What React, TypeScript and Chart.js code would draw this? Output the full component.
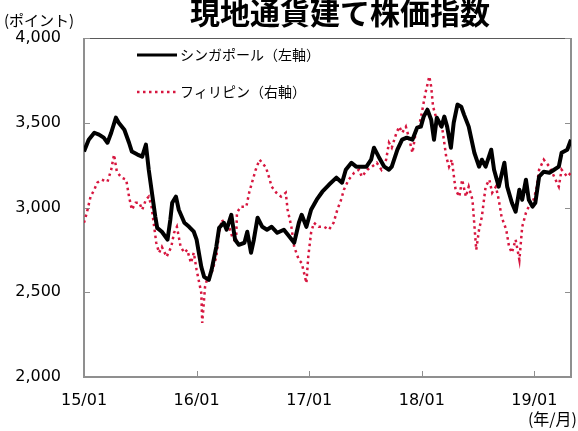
import React, { useEffect, useRef } from "react";
import { Chart, registerables } from "chart.js";

Chart.register(...registerables);

const titleText = "現地通貨建て株価指数";
const yUnitLabel = "(ポイント)";
const xUnitLabel = "(年/月)";
const seriesLabels = ["シンガポール（左軸）", "フィリピン（右軸）"];
const xTickLabels = ["15/01", "16/01", "17/01", "18/01", "19/01"];
const xTickMonths = [0, 12, 24, 36, 48];
const yMin = 2000;
const yMax = 4000;
const yStep = 500;
const xMaxMonth = 51.9;

// months elapsed since Jan 2015
const sgMonths = [
  0.0, 0.5, 1.1, 1.6, 2.1, 2.5, 2.9, 3.4, 3.7, 4.3, 4.8, 5.1, 5.7, 6.2, 6.6, 6.9, 7.3, 7.6, 7.8, 8.3,
  8.9, 9.2, 9.4, 9.8, 10.1, 10.7, 11.2, 11.7, 12.0, 12.5, 12.8, 13.3, 13.6, 14.1, 14.4, 14.9, 15.2, 15.7, 16.1, 16.5,
  17.1, 17.4, 17.8, 18.1, 18.5, 19.0, 19.5, 20.0, 20.6, 21.3, 21.9, 22.4, 22.9, 23.2, 23.7, 24.2, 24.8, 25.4, 26.1, 26.9,
  27.5, 27.9, 28.5, 29.0, 29.5, 30.1, 30.6, 30.9, 31.4, 32.0, 32.5, 32.8, 33.4, 33.9, 34.4, 35.0, 35.5, 35.9, 36.2, 36.6,
  37.0, 37.3, 37.6, 38.1, 38.4, 38.7, 39.1, 39.4, 39.8, 40.2, 40.5, 41.0, 41.6, 42.1, 42.4, 42.8, 43.4, 43.7, 44.2, 44.8,
  45.1, 45.6, 46.0, 46.4, 46.7, 47.1, 47.4, 47.8, 48.1, 48.5, 49.0, 49.6, 50.1, 50.6, 50.9, 51.5, 51.9,
];
const sgValues = [
  3331, 3400, 3441, 3430, 3412, 3382, 3441, 3530, 3500, 3459, 3382, 3330, 3312, 3300, 3371, 3223, 3064, 2945, 2880, 2857,
  2810, 2928, 3028, 3064, 2987, 2910, 2886, 2857, 2810, 2650, 2591, 2573, 2632, 2768, 2880, 2910, 2869, 2957, 2810, 2780,
  2792, 2857, 2733, 2810, 2940, 2886, 2869, 2886, 2851, 2869, 2827, 2792, 2910, 2957, 2886, 2987, 3046, 3093, 3134, 3176,
  3146, 3223, 3264, 3241, 3241, 3241, 3282, 3353, 3300, 3241, 3223, 3241, 3341, 3400, 3412, 3400, 3471, 3477, 3536, 3577,
  3518, 3400, 3530, 3477, 3536, 3477, 3353, 3500, 3607, 3595, 3548, 3477, 3323, 3241, 3282, 3241, 3341, 3223, 3123, 3264,
  3123, 3028, 2975, 3105, 3046, 3164, 3046, 3005, 3028, 3182, 3211, 3205, 3223, 3241, 3323, 3341, 3400,
];

const phMonths = [
  0.0, 0.3, 0.7, 1.1, 1.4, 1.9, 2.5, 2.9, 3.2, 3.5, 4.0, 4.5, 4.8, 5.1, 5.5, 5.9, 6.2, 6.6, 6.9, 7.2,
  7.7, 8.0, 8.3, 8.8, 9.3, 9.6, 9.9, 10.3, 10.7, 11.0, 11.4, 11.7, 12.0, 12.5, 12.6, 12.9, 13.1, 13.6, 14.1, 14.4,
  14.7, 15.1, 15.5, 15.8, 16.2, 16.3, 16.7, 17.3, 17.6, 17.9, 18.3, 18.7, 19.0, 19.4, 19.7, 20.0, 20.5, 21.0, 21.5, 21.7,
  22.1, 22.4, 22.9, 23.2, 23.7, 23.9, 24.2, 24.5, 25.0, 25.6, 26.1, 26.6, 27.0, 27.4, 27.7, 28.2, 28.8, 29.3, 29.6, 30.2,
  30.7, 31.2, 31.7, 32.2, 32.5, 32.8, 33.3, 33.6, 33.9, 34.3, 34.6, 35.0, 35.4, 35.7, 36.0, 36.4, 36.8, 37.0, 37.2, 37.5,
  37.8, 38.2, 38.6, 38.9, 39.2, 39.6, 40.0, 40.3, 40.7, 41.0, 41.4, 41.8, 42.1, 42.4, 42.8, 43.2, 43.5, 43.9, 44.2, 44.5,
  45.0, 45.3, 45.6, 46.0, 46.4, 46.7, 47.1, 47.4, 47.7, 48.2, 48.5, 49.0, 49.6, 50.1, 50.6, 50.9, 51.5, 51.9,
];
const phValues = [
  2910, 2969, 3064, 3105, 3146, 3164, 3152, 3223, 3312, 3211, 3176, 3164, 3064, 2987, 3028, 3028, 2987, 3046, 3064, 3005,
  2792, 2733, 2768, 2709, 2768, 2851, 2886, 2768, 2733, 2750, 2673, 2733, 2632, 2496, 2319, 2532, 2573, 2614, 2709, 2851,
  2928, 2886, 2880, 2827, 2792, 2969, 3005, 3005, 3087, 3146, 3223, 3282, 3264, 3235, 3182, 3123, 3087, 3064, 3087, 2987,
  2886, 2768, 2691, 2673, 2555, 2709, 2851, 2910, 2886, 2886, 2869, 2910, 2987, 3046, 3105, 3164, 3205, 3223, 3182, 3223,
  3241, 3264, 3223, 3282, 3382, 3353, 3441, 3477, 3441, 3477, 3418, 3323, 3459, 3477, 3559, 3678, 3773, 3713, 3595, 3536,
  3500, 3459, 3300, 3241, 3282, 3105, 3064, 3164, 3064, 3123, 3046, 2750, 2869, 2945, 3123, 3164, 3087, 3123, 3046, 2945,
  2869, 2768, 2733, 2810, 2691, 2886, 2969, 3005, 3005, 3105, 3223, 3282, 3241, 3182, 3123, 3223, 3182, 3205,
];

const SG_COLOR = "#000000";
const PH_COLOR = "#d7163f";
const FRAME_COLOR = "#8f8f8f";
const JP_FONT = "'Noto Sans CJK JP', 'Noto Sans', sans-serif";
const NUM_FONT = "'DejaVu Sans', Verdana, sans-serif";

const decorPlugin = {
  id: "decor",
  beforeDatasetsDraw(chart: any) {
    const { ctx, chartArea } = chart;
    const { left, right, top, bottom } = chartArea;
    ctx.save();
    ctx.strokeStyle = FRAME_COLOR;
    ctx.lineWidth = 2;
    ctx.beginPath();
    ctx.moveTo(left, top);
    ctx.lineTo(left, bottom);
    ctx.lineTo(right, bottom);
    ctx.lineTo(right, top);
    ctx.stroke();
    ctx.strokeStyle = "#5a5a5a";
    ctx.lineWidth = 1;
    ctx.beginPath();
    ctx.moveTo(left, top + 0.5);
    ctx.lineTo(right, top + 0.5);
    ctx.stroke();
    ctx.strokeStyle = FRAME_COLOR;
    ctx.lineWidth = 1;
    const ys = chart.scales.y;
    const y1 = chart.scales.y1;
    const xs = chart.scales.x;
    ys.ticks.forEach((t: any) => {
      const py = Math.round(ys.getPixelForValue(t.value)) + 0.5;
      ctx.beginPath();
      ctx.moveTo(left, py);
      ctx.lineTo(left + 6, py);
      ctx.stroke();
    });
    y1.ticks.forEach((t: any) => {
      const py = Math.round(y1.getPixelForValue(t.value)) + 0.5;
      ctx.beginPath();
      ctx.moveTo(right, py);
      ctx.lineTo(right - 6, py);
      ctx.stroke();
    });
    xs.ticks.forEach((t: any) => {
      const px = Math.round(xs.getPixelForValue(t.value)) + 0.5;
      ctx.beginPath();
      ctx.moveTo(px, bottom);
      ctx.lineTo(px, bottom - 6);
      ctx.stroke();
    });
    ctx.restore();
  },
  afterDraw(chart: any) {
    const { ctx, chartArea } = chart;
    const { left, top, bottom } = chartArea;
    ctx.save();
    ctx.fillStyle = "#000";
    ctx.textAlign = "center";
    ctx.textBaseline = "middle";
    ctx.font = `bold 30px ${JP_FONT}`;
    ctx.fillText(titleText, 340, 13);
    ctx.font = `15px ${JP_FONT}`;
    ctx.textAlign = "left";
    ctx.fillText(yUnitLabel, 4, 20);
    ctx.textAlign = "right";
    ctx.font = `16px ${JP_FONT}`;
    ctx.fillText(xUnitLabel, 577, bottom + 42);
    const items = chart.data.datasets;
    const lx0 = left + 53;
    const lx1 = left + 93;
    const rows = [top + 17, top + 54];
    items.forEach((ds: any, i: number) => {
      const yy = rows[i];
      ctx.strokeStyle = ds.borderColor;
      ctx.lineWidth = i === 0 ? 3 : 2.5;
      ctx.setLineDash(ds.borderDash || []);
      ctx.lineCap = "butt";
      ctx.beginPath();
      ctx.moveTo(lx0, yy);
      ctx.lineTo(lx1, yy);
      ctx.stroke();
      ctx.setLineDash([]);
      ctx.fillStyle = "#000";
      ctx.font = `14px ${JP_FONT}`;
      ctx.textAlign = "left";
      ctx.textBaseline = "middle";
      ctx.fillText(ds.label, lx1 + 3, yy);
    });
    ctx.restore();
  },
};

export default function App() {
  const canvasRef = useRef<HTMLCanvasElement | null>(null);

  useEffect(() => {
    const canvas = canvasRef.current;
    if (!canvas) return;
    const sgData = sgMonths.map((m, i) => ({ x: m, y: sgValues[i] }));
    const phData = phMonths.map((m, i) => ({ x: m, y: phValues[i] }));
    const chart = new Chart(canvas, {
      type: "line",
      data: {
        datasets: [
          {
            label: seriesLabels[0],
            data: sgData,
            yAxisID: "y",
            borderColor: SG_COLOR,
            borderWidth: 4,
            pointRadius: 0,
            tension: 0,
            borderJoinStyle: "round",
          },
          {
            label: seriesLabels[1],
            data: phData,
            yAxisID: "y1",
            borderColor: PH_COLOR,
            borderWidth: 2.5,
            borderDash: [2.5, 3.5],
            pointRadius: 0,
            tension: 0,
          },
        ],
      },
      options: {
        responsive: false,
        animation: false,
        devicePixelRatio: 1,
        layout: { padding: { top: 38, left: 0, right: 0, bottom: 0 } },
        plugins: {
          legend: { display: false },
          title: { display: false },
          tooltip: { enabled: false },
        },
        scales: {
          x: {
            type: "linear",
            min: 0,
            max: xMaxMonth,
            grid: { display: false },
            border: { display: false },
            afterBuildTicks: (scale: any) => {
              scale.ticks = xTickMonths.map((v) => ({ value: v }));
            },
            afterFit: (scale: any) => {
              scale.height = 54;
            },
            ticks: {
              padding: 6,
              color: "#000",
              font: { family: NUM_FONT, size: 16 },
              maxRotation: 0,
              autoSkip: false,
              callback: (v: any) => {
                const idx = xTickMonths.indexOf(Number(v));
                return idx >= 0 ? xTickLabels[idx] : "";
              },
            },
          },
          y: {
            type: "linear",
            position: "left",
            min: yMin,
            max: yMax,
            grid: { display: false },
            border: { display: false },
            afterFit: (scale: any) => {
              scale.width = 84;
            },
            ticks: {
              stepSize: yStep,
              padding: 15,
              color: "#000",
              font: { family: NUM_FONT, size: 16 },
              callback: (v: any) => Number(v).toLocaleString("en-US"),
            },
          },
          y1: {
            type: "linear",
            position: "right",
            min: yMin,
            max: yMax,
            grid: { display: false },
            border: { display: false },
            afterFit: (scale: any) => {
              scale.width = 7;
            },
            ticks: { stepSize: yStep, display: false },
          },
        },
      },
      plugins: [decorPlugin],
    });
    return () => chart.destroy();
  }, []);

  return (
    <div style={{ position: "absolute", left: 0, top: 0, width: 578, height: 431, background: "#fff" }}>
      <canvas ref={canvasRef} width={578} height={431} style={{ display: "block" }} />
    </div>
  );
}
